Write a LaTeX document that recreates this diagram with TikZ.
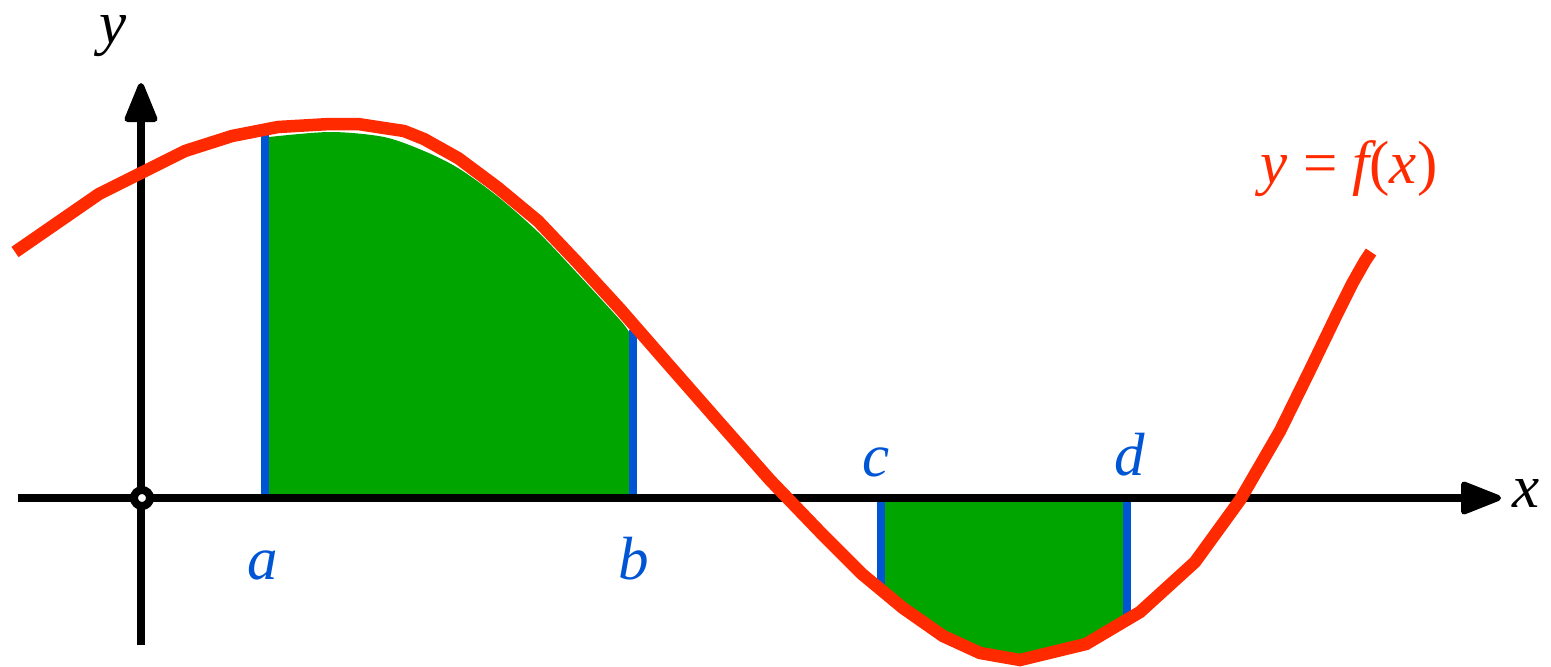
\documentclass[tikz,border=0pt]{standalone}
\usepackage{fontspec}
\setmainfont{Liberation Serif}
\begin{document}
\begin{tikzpicture}[x=1pt,y=-1pt,
  curve/.style={draw=fred,line width=12.5pt,line join=miter},
  bound/.style={draw=fblue,line width=8.5pt},
  axis/.style={draw=black,line width=8pt},
  head/.style={fill=black,draw=black,line width=6pt,line join=round},
  region/.style={fill=fgreen,draw=none},
  lab/.style={anchor=base,inner sep=0pt,font=\fontsize{61}{70}\selectfont\itshape},
  blab/.style={lab,text=fblue},
]
\definecolor{fred}{HTML}{FF2A00}
\definecolor{fblue}{HTML}{0055D4}
\definecolor{fgreen}{HTML}{00A500}
\useasboundingbox (0,0) rectangle (1551,667);
% green regions
\path[region] (269,498) -- (269,137) -- plot[smooth,tension=0.5] coordinates {(269,137) (330,132) (384,137) (424,151) (458,168) (497,196) (538,232) (576,272) (620,320) (629,332)} -- (629,498) -- cycle;
\path[region] (885,502) -- (885,590) -- (903,606) -- (943,634) -- (980,650) -- (1020,657) -- (1086,641) -- (1123,619) -- (1123,502) -- cycle;
% boundaries
\coordinate (a0) at (265,498); \coordinate (a1) at (265,135);
\coordinate (b0) at (633,498); \coordinate (b1) at (633,330);
\coordinate (c0) at (881,498); \coordinate (c1) at (881,595);
\coordinate (d0) at (1127,498); \coordinate (d1) at (1127,620);
\draw[bound] (a0) -- (a1);
\draw[bound] (b0) -- (b1);
\draw[bound] (c0) -- (c1);
\draw[bound] (d0) -- (d1);
% axes
\coordinate (xs) at (18,498); \coordinate (xe) at (1464,498);
\coordinate (ys) at (141,645); \coordinate (ye) at (141,119);
\draw[axis] (xs) -- (xe);
\draw[axis] (ys) -- (ye);
\path[head] (1498,498) -- (1464,484.5) -- (1464,511.5) -- cycle;
\path[head] (141,86) -- (127.5,119) -- (154.5,119) -- cycle;
\node[circle,draw=black,fill=white,line width=8pt,minimum size=16pt,inner sep=0pt] (o) at (142,498) {};
% curve
\draw[curve] (15,252) -- (99,194) -- (185,151) -- (232,136) -- (278,127) -- (330,124) -- (358,124) -- (384,128) -- (404,131) -- (424,139) -- (458,158) -- (497,187) -- (538,221) -- (576,261) -- (620,309) -- (668,364) -- (718,421) -- (770,480) -- (822,534) -- (862,574) -- (903,608) -- (943,636) -- (980,653) -- (1020,660) -- (1086,644) -- (1140,612) -- (1195,562) -- (1240,500) -- (1280,431) -- (1310,370) -- (1338,312) -- (1352,284) -- (1365,261) -- (1371,252);
% labels
\node[lab] (ylab) at (113,43) {y};
\node[lab] (xlab) at (1526,507) {x};
\node[blab] (alab) at (263,579) {a};
\node[blab] (blab) at (634,579) {b};
\node[blab] (clab) at (876,476) {c};
\node[blab] (dlab) at (1130,475) {d};
\node[lab,text=fred] (flab) at (1349,183) {y {\upshape =} f{\upshape (}x{\upshape )}};
\end{tikzpicture}
\end{document}
